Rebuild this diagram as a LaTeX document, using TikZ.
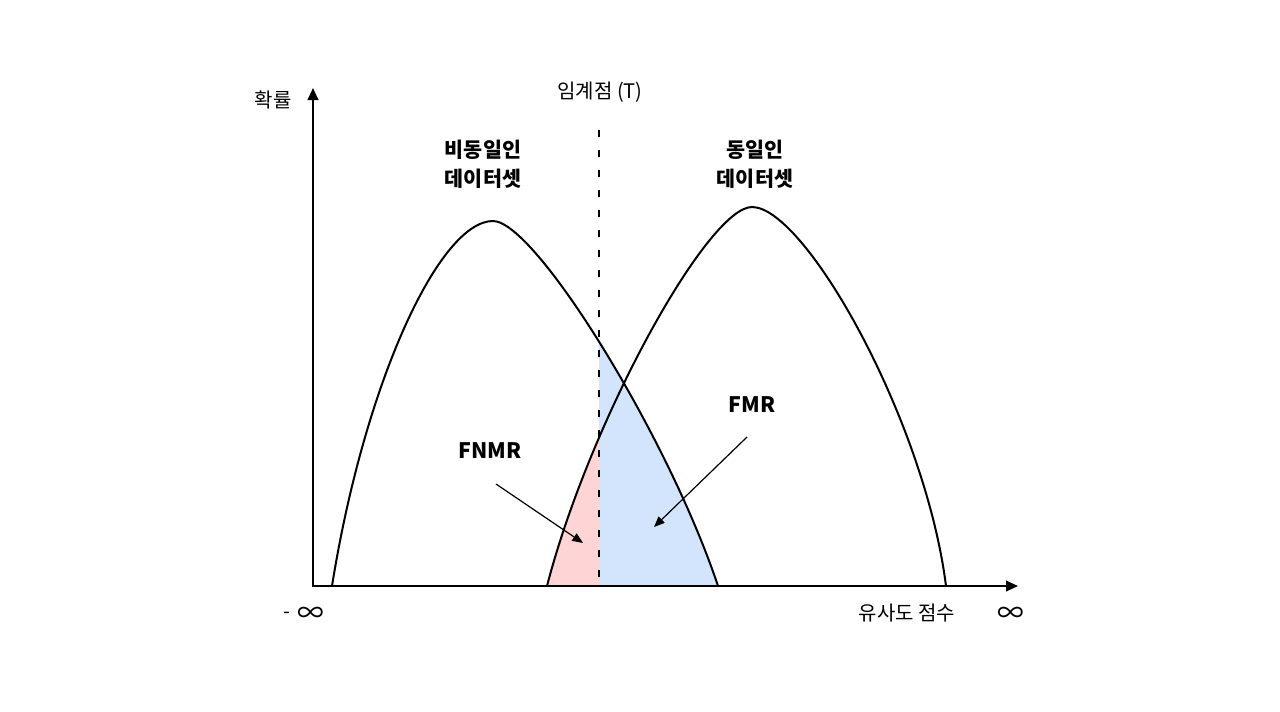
\documentclass[tikz,border=0pt]{standalone}
\usepackage{fontspec}
\setmainfont{Noto Sans CJK KR}
\usetikzlibrary{arrows.meta}
\definecolor{fnmrpink}{HTML}{FFD4D4}
\definecolor{fmrblue}{HTML}{D2E5FC}
\begin{document}
\begin{tikzpicture}[x=0.75pt,y=-0.75pt,
  curve/.style={line width=1.5pt},
  axisline/.style={line width=1.5pt,{Triangle[length=9pt,width=8pt]}-{Triangle[length=9pt,width=8pt]}},
  thresh/.style={line width=1.6pt,dash pattern=on 4.9pt off 10.1pt},
  pointer/.style={line width=0.9pt,-{Triangle[length=8pt,width=6.5pt]}},
  lbl/.style={inner sep=0pt,font=\fontsize{15}{18}\selectfont},
  inflbl/.style={inner sep=0pt,font=\fontsize{20}{22}\selectfont},
  blbl/.style={inner sep=0pt,align=center,font=\bfseries\fontsize{15.5}{21.75}\selectfont},
  rlbl/.style={inner sep=0pt,font=\bfseries\fontsize{16}{19}\selectfont}]
\useasboundingbox (0,0) rectangle (1280,711);
\fill[white] (0,0) rectangle (1280,711);

% shaded areas
\begin{scope}
  \clip (599,0) rectangle (1280,586);
  \fill[fmrblue] (332,586) .. controls (365,380) and (440,221) .. (493,221)
     .. controls (535,221) and (668,436) .. (718,586) -- cycle;
\end{scope}
\begin{scope}
  \clip (0,0) rectangle (599,586);
  \fill[fnmrpink] (547,586) .. controls (590,420) and (708,207) .. (752,207)
     .. controls (805,207) and (925,420) .. (946,586) -- cycle;
\end{scope}

% distributions
\draw[curve] (332,586) .. controls (365,380) and (440,221) .. (493,221)
     .. controls (535,221) and (668,436) .. (718,586);
\draw[curve] (547,586) .. controls (590,420) and (708,207) .. (752,207)
     .. controls (805,207) and (925,420) .. (946,586);

% threshold
\coordinate (T1) at (599,130);
\coordinate (T0) at (599,586);
\draw[thresh] (T1) -- (T0);

% axes
\coordinate (O) at (313,586);
\coordinate (ytip) at (313,88);
\coordinate (xtip) at (1018,586);
\draw[axisline] (ytip) -- (O) -- (xtip);

% labels
\node[lbl] (yl) at (273,100) {확률};
\node[lbl] (tl) at (600,92) {임계점 (T)};
\node[blbl] (nonsame) at (483,164) {비동일인\\데이터셋};
\node[blbl] (same) at (755,164) {동일인\\데이터셋};
\node[rlbl] (fnmr) at (490,451) {FNMR};
\node[rlbl] (fmr) at (752,405) {FMR};
\node[lbl] (minus) at (287,615) {-};
\node[inflbl] (minf) at (311,615) {∞};
\node[lbl] (score) at (907,613) {유사도 점수};
\node[inflbl] (pinf) at (1011,615) {∞};

% pointers
\coordinate (fnmrA) at (496,484);
\coordinate (fnmrB) at (583,543);
\draw[pointer] (fnmrA) -- (fnmrB);
\coordinate (fmrA) at (747,437);
\coordinate (fmrB) at (654,527);
\draw[pointer] (fmrA) -- (fmrB);
\end{tikzpicture}
\end{document}
